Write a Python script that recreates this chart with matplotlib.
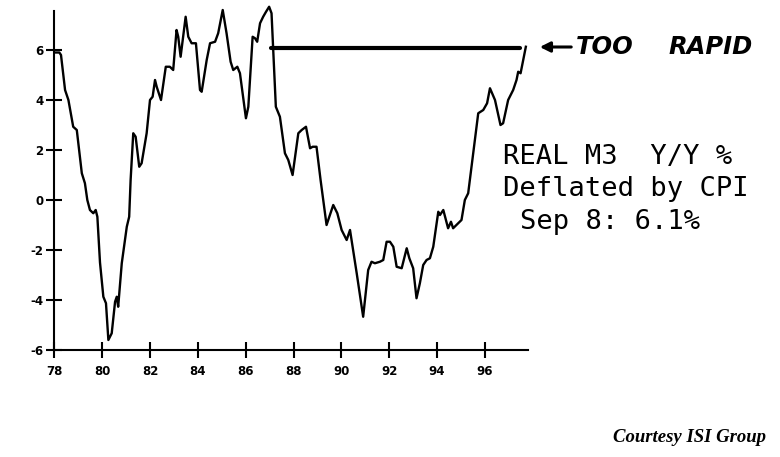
import matplotlib
matplotlib.use("Agg")
import matplotlib.pyplot as plt

# real M3 y/y %
years = [78.03, 78.21, 78.28, 78.45, 78.59, 78.79, 78.94, 79.15, 79.28, 79.38,
         79.49, 79.63, 79.73, 79.80, 79.91, 80.05, 80.16, 80.26, 80.40, 80.54,
         80.61, 80.67, 80.82, 81.03, 81.13, 81.19, 81.30, 81.40, 81.55, 81.65,
         81.86, 82.00, 82.11, 82.21, 82.28, 82.46, 82.66, 82.83, 82.97, 83.11,
         83.18, 83.28, 83.35, 83.49, 83.60, 83.74, 83.92, 84.09, 84.16, 84.37,
         84.51, 84.72, 84.85, 85.04, 85.20, 85.37, 85.48, 85.65, 85.76, 86.01,
         86.11, 86.29, 86.39, 86.48, 86.60, 86.73, 86.85, 86.98, 87.08, 87.26,
         87.43, 87.64, 87.78, 87.96, 88.20, 88.34, 88.52, 88.69, 88.80, 88.96,
         89.13, 89.38, 89.66, 89.83, 90.01, 90.22, 90.36, 90.64, 90.91, 91.12,
         91.26, 91.40, 91.61, 91.75, 91.89, 92.03, 92.17, 92.31, 92.52, 92.73,
         92.84, 93.00, 93.14, 93.28, 93.42, 93.56, 93.70, 93.84, 94.05, 94.12,
         94.26, 94.46, 94.58, 94.67, 94.88, 95.02, 95.16, 95.30, 95.51, 95.72,
         95.93, 96.09, 96.21, 96.42, 96.65, 96.76, 96.97, 97.18, 97.32, 97.39,
         97.49, 97.60, 97.71]
m3 = [5.9, 5.9, 5.8, 4.4, 4.0, 2.93, 2.8, 1.07, 0.67, 0.0,
      -0.4, -0.53, -0.4, -0.67, -2.5, -3.87, -4.13, -5.6, -5.33, -4.07,
      -3.87, -4.27, -2.53, -1.07, -0.67, 0.8, 2.67, 2.53, 1.33, 1.47,
      2.67, 4.0, 4.13, 4.8, 4.53, 4.0, 5.33, 5.33, 5.2, 6.8,
      6.53, 5.73, 6.27, 7.33, 6.53, 6.27, 6.27, 4.4, 4.33, 5.6,
      6.27, 6.33, 6.67, 7.6, 6.67, 5.53, 5.2, 5.33, 5.07, 3.27,
      3.73, 6.53, 6.47, 6.33, 7.07, 7.33, 7.53, 7.73, 7.47, 3.73,
      3.33, 1.87, 1.6, 1.0, 2.67, 2.8, 2.93, 2.07, 2.13, 2.13,
      0.8, -1.0, -0.2, -0.53, -1.2, -1.6, -1.2, -2.93, -4.67, -2.8,
      -2.47, -2.53, -2.47, -2.4, -1.67, -1.67, -1.87, -2.67, -2.73, -1.93,
      -2.33, -2.73, -3.93, -3.33, -2.6, -2.4, -2.33, -1.87, -0.47, -0.6,
      -0.4, -1.13, -0.87, -1.13, -0.93, -0.8, 0.0, 0.27, 1.87, 3.47,
      3.6, 3.87, 4.47, 4.0, 3.0, 3.07, 4.0, 4.4, 4.8, 5.13,
      5.07, 5.6, 6.13]

level_years = [87.07, 97.45]
level = 6.1

xticks = [78, 80, 82, 84, 86, 88, 90, 92, 94, 96]
yticks = [-6, -4, -2, 0, 2, 4, 6]

W, H = 780, 457
fig = plt.figure(figsize=(W / 100, H / 100), dpi=100)
ax = fig.add_axes([54.3 / W, 107 / H, 473.7 / W, 347.5 / H])

ax.plot(years, m3, color='black', lw=1.7, solid_joinstyle='round')
ax.plot(level_years, [level, level], color='black', lw=3, solid_capstyle='round')

ax.set_xlim(78, 97.8)
ax.set_ylim(-6, 7.9)
ax.spines['top'].set_visible(False)
ax.spines['right'].set_visible(False)
ax.spines['left'].set_bounds(-6, 7.55)
for s in ('left', 'bottom'):
    ax.spines[s].set_linewidth(1.5)

ax.set_xticks(xticks)
ax.set_xticklabels([str(t) for t in xticks])
ax.set_yticks(yticks)
ax.set_yticklabels([str(t) for t in yticks])
ax.tick_params(axis='both', direction='inout', length=12, width=1.5, labelsize=8.5)
ax.tick_params(axis='x', pad=5)
ax.tick_params(axis='y', pad=2)
for lab in ax.get_xticklabels() + ax.get_yticklabels():
    lab.set_fontweight('bold')

mono = dict(family='DejaVu Sans Mono', fontsize=19.5, va='center', ha='left')
fig.text(503 / W, 1 - 157 / H, 'REAL M3  Y/Y %', **mono)
fig.text(503 / W, 1 - 189 / H, 'Deflated by CPI', **mono)
fig.text(520 / W, 1 - 222 / H, 'Sep 8: 6.1%', **mono)

# hand-written note
fig.add_artist(matplotlib.patches.FancyArrowPatch(
    (574 / W, 1 - 47 / H), (537 / W, 1 - 47 / H), transform=fig.transFigure,
    arrowstyle='-|>', mutation_scale=15, lw=2.2, color='black'))
hand = dict(family='DejaVu Sans', fontsize=17.5, fontweight='bold', style='italic',
            va='center', ha='left')
fig.text(576 / W, 1 - 47 / H, 'TOO', **hand)
fig.text(668 / W, 1 - 47 / H, 'RAPID', **hand)

fig.text(766 / W, 1 - 438 / H, 'Courtesy ISI Group', family='Liberation Serif',
         fontsize=13.5, fontweight='bold', style='italic', ha='right', va='center')

fig.savefig('out.png', dpi=100)
